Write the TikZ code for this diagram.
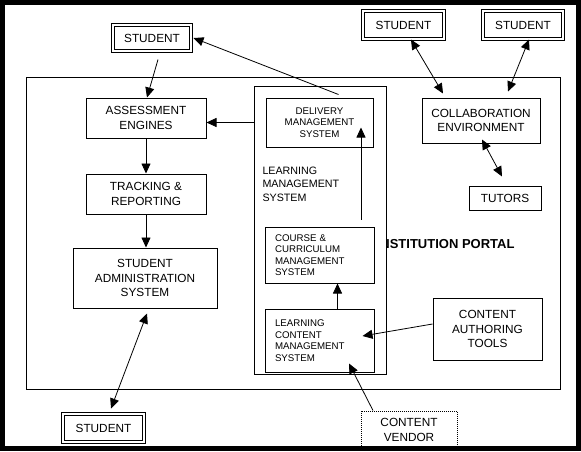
\documentclass[tikz,border=0pt]{standalone}
\usepackage{fontspec}
\setmainfont{Liberation Sans}
\usetikzlibrary{arrows.meta}
\newcommand{\bigfont}{\fontsize{11.8}{14.5}\selectfont}
\newcommand{\smallfont}{\fontsize{9.7}{11.5}\selectfont}
\newcommand{\lmsfont}{\fontsize{10.7}{13.5}\selectfont}

\begin{document}
\begin{tikzpicture}[x=1pt,y=-1pt,line width=1pt,
  >={Triangle[length=10pt,width=9pt]},
  box/.style={draw,fill=white,align=center,inner sep=0pt,font=\bigfont},
  dbox/.style={box,double,double distance=2pt},
  sbox/.style={draw,fill=white,align=left,text width=89pt,inner xsep=10pt,inner ysep=0pt,font=\smallfont},
  vbox/.style={box,dash pattern=on 1pt off 1pt},
  arr/.style={->,line width=0.8pt},
  darr/.style={<->,line width=0.8pt}]

  \useasboundingbox (0,0) rectangle (581,451);
  \fill[white] (0,0) rectangle (581,451);

  % institution portal and learning management system
  \node[draw,minimum width=534pt,minimum height=312pt] (portal) at (293,233) {};
  \node[anchor=east,inner sep=0pt,font=\fontsize{13}{15}\selectfont\bfseries] (portaltxt) at (515,244) {INSTITUTION PORTAL};
  \node[draw,fill=white,minimum width=132pt,minimum height=288pt] (lms) at (320,230) {};
  \node[anchor=west,align=left,inner sep=0pt,font=\lmsfont] (lmstxt) at (262,184) {LEARNING\\MANAGEMENT\\SYSTEM};

  \node[dbox,minimum width=78pt,minimum height=26pt] (stud1) at (152,38) {STUDENT};
  \node[dbox,minimum width=81pt,minimum height=28pt] (stud2) at (403.5,25) {STUDENT};
  \node[dbox,minimum width=80pt,minimum height=28pt] (stud3) at (523,25) {STUDENT};
  \node[dbox,minimum width=81pt,minimum height=28pt] (stud4) at (103.5,428) {STUDENT};

  \node[box,minimum width=120pt,minimum height=40pt] (ae) at (146,118) {ASSESSMENT\\ENGINES};
  \node[box,minimum width=120pt,minimum height=40pt] (tr) at (146,194) {TRACKING \&\\REPORTING};
  \node[box,minimum width=144pt,minimum height=60pt] (sas) at (145,278) {STUDENT\\ADMINISTRATION\\SYSTEM};

  \node[box,font=\smallfont,minimum width=107pt,minimum height=49pt] (dms) at (319.5,122.5) {DELIVERY\\MANAGEMENT\\SYSTEM};
  \node[sbox,minimum height=56pt] (ccms) at (319.5,255) {COURSE \&\\CURRICULUM\\MANAGEMENT\\SYSTEM};
  \node[sbox,minimum height=63pt] (lcms) at (319.5,340.5) {LEARNING\\CONTENT\\MANAGEMENT\\SYSTEM};

  \node[box,minimum width=118pt,minimum height=45pt] (ce) at (481,120.5) {COLLABORATION\\ENVIRONMENT};
  \node[box,minimum width=72pt,minimum height=24pt] (tut) at (505,198) {TUTORS};
  \node[box,minimum width=109pt,minimum height=62pt] (cat) at (487.5,329) {CONTENT\\AUTHORING\\TOOLS};
  \node[vbox,minimum width=96pt,minimum height=38pt] (cv) at (409,430) {CONTENT\\VENDOR};

  % draw links on left side
  \draw[arr] ([xshift=6pt,yshift=-8pt]stud1.south) -- ([xshift=1pt]ae.north);
  \draw[arr] (ae.south) -- (tr.north);
  \draw[arr] (tr.south) -- (tr.south |- sas.north);
  \draw[darr] ([xshift=2pt,yshift=-5pt]sas.south) -- ([xshift=7.5pt,yshift=5pt]stud4.north);

  % draw links in the middle
  \draw[arr] (dms.west -| lms.west) -- (dms.west -| ae.east);
  \draw[arr] ([xshift=19pt,yshift=3pt]dms.north) -- ([xshift=2pt]stud1.east);
  \draw[arr] ([xshift=41.5pt,yshift=7pt]ccms.north) -- ([xshift=41.5pt,yshift=20pt]dms.south);
  \draw[arr] ([xshift=18pt]lcms.north) -- ([xshift=18pt]ccms.south);
  \draw[arr] ([yshift=5pt]cat.west) -- ([xshift=-12pt,yshift=4.5pt]lcms.east);
  \draw[arr] ([xshift=-36pt]cv.north) -- ([xshift=29.5pt,yshift=9pt]lcms.south);

  % draw links on right side
  \draw[darr] ([xshift=7.5pt]stud2.south) -- ([xshift=-38pt,yshift=4pt]ce.north);
  \draw[darr] ([xshift=6pt]stud3.south) -- ([xshift=27pt,yshift=6pt]ce.north);
  \draw[darr] ([xshift=1pt,yshift=4pt]ce.south) -- ([xshift=-3pt,yshift=9pt]tut.north);

  % outer frame
  \draw[line width=4.5pt] (2.25,2.25) rectangle (578.5,448.5);
\end{tikzpicture}
\end{document}
